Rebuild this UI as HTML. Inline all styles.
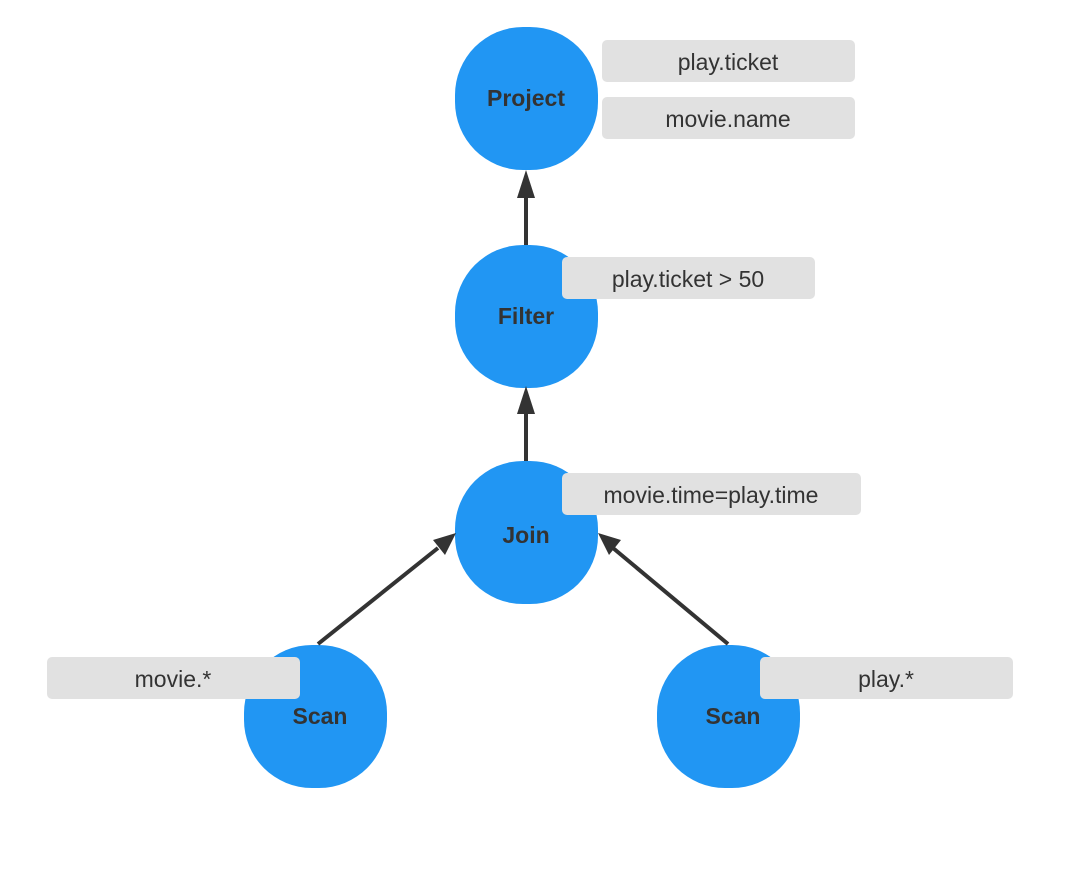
<!DOCTYPE html>
<html><head><style>
body{margin:0;width:1082px;height:885px;background:#fff;overflow:hidden;font-family:"Liberation Sans",sans-serif}
</style></head><body>
<svg width="1082" height="885" viewBox="0 0 1082 885" xmlns="http://www.w3.org/2000/svg">
<g fill="#2196f3">
<rect x="455" y="27" width="143" height="143" rx="68"/>
<rect x="455" y="245" width="143" height="143" rx="68"/>
<rect x="455" y="461" width="143" height="143" rx="68"/>
<rect x="244" y="645" width="143" height="143" rx="68"/>
<rect x="657" y="645" width="143" height="143" rx="68"/>
</g>
<g stroke="#333" stroke-width="4" fill="none">
<line x1="526" y1="245" x2="526" y2="195"/>
<line x1="526" y1="461" x2="526" y2="412"/>
<line x1="318" y1="644" x2="438" y2="548"/>
<line x1="728" y1="644" x2="613" y2="548"/>
</g>
<g fill="#333">
<polygon points="526,170 517,198 535,198"/>
<polygon points="526,386 517,414 535,414"/>
<polygon points="456,533 433,540 445,555"/>
<polygon points="598,533 621,540 609,555"/>
</g>
<g fill="#e1e1e1">
<rect x="602" y="40" width="253" height="42" rx="5"/>
<rect x="602" y="97" width="253" height="42" rx="5"/>
<rect x="562" y="257" width="253" height="42" rx="5"/>
<rect x="562" y="473" width="299" height="42" rx="5"/>
<rect x="47" y="657" width="253" height="42" rx="5"/>
<rect x="760" y="657" width="253" height="42" rx="5"/>
</g>
<g font-size="23" fill="#333" text-anchor="middle">
<text x="728" y="70">play.ticket</text>
<text x="728" y="127">movie.name</text>
<text x="688" y="287">play.ticket &gt; 50</text>
<text x="711" y="503">movie.time=play.time</text>
<text x="173" y="687">movie.*</text>
<text x="886" y="687">play.*</text>
</g>
<g font-size="23" font-weight="bold" fill="#333" text-anchor="middle">
<text x="526" y="106">Project</text>
<text x="526" y="324">Filter</text>
<text x="526" y="543">Join</text>
<text x="320" y="724">Scan</text>
<text x="733" y="724">Scan</text>
</g>
</svg>
</body></html>
